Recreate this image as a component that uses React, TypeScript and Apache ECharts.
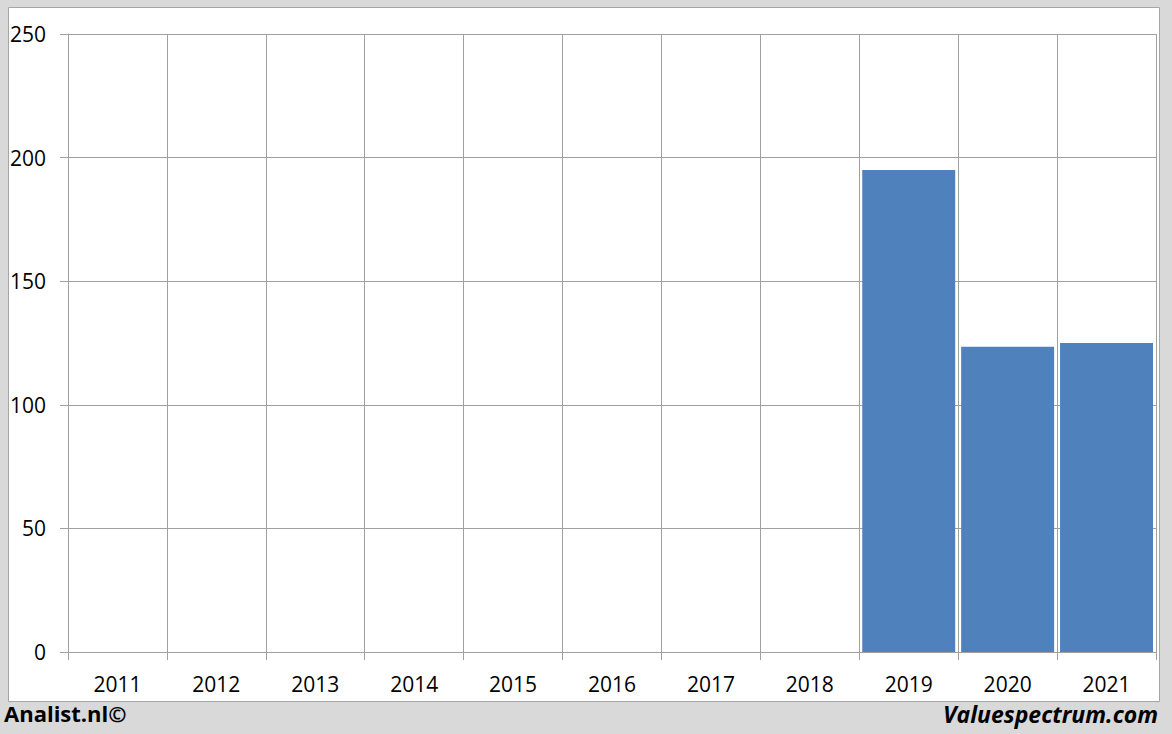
import React, { useEffect, useRef } from "react";
import * as echarts from "echarts";

const categories = ["2011", "2012", "2013", "2014", "2015", "2016", "2017", "2018", "2019", "2020", "2021"];
const values: (number | null)[] = [null, null, null, null, null, null, null, null, 195, 123.5, 125];
const yTicks = { min: 0, max: 250, interval: 50 };
const leftFooter = "Analist.nl©";
const rightFooter = "Valuespectrum.com";

export default function App() {
  const ref = useRef<HTMLDivElement>(null);
  useEffect(() => {
    if (!ref.current) return;
    const chart = echarts.init(ref.current, null, { renderer: "svg" });
    const gridColor = "#a0a0a0";
    const font = "'Open Sans', 'Liberation Sans', sans-serif";
    chart.setOption({
      animation: false,
      backgroundColor: "#d9d9d9",
      textStyle: { fontFamily: font },
      graphic: [
        {
          type: "rect",
          z: -10,
          shape: { x: 8.5, y: 7.5, width: 1151, height: 694 },
          style: { fill: "#ffffff", stroke: "#a6a6a6", lineWidth: 1 },
        },
        {
          type: "text",
          left: 4,
          top: 702,
          style: { text: leftFooter, font: `bold 22px ${font}`, fill: "#000" },
        },
        {
          type: "text",
          right: 14,
          top: 702,
          style: { text: rightFooter, font: `italic bold 23px ${font}`, fill: "#000" },
        },
      ],
      grid: { left: 68, right: 16, top: 34, bottom: 82, containLabel: false },
      xAxis: {
        type: "category",
        data: categories,
        boundaryGap: true,
        axisLine: { show: true, lineStyle: { color: gridColor, width: 1 } },
        axisTick: { show: true, length: 8, interval: 0, lineStyle: { color: gridColor } },
        splitLine: { show: true, interval: 0, lineStyle: { color: gridColor, width: 1 } },
        axisLabel: { color: "#000", fontSize: 21, margin: 21, interval: 0, fontFamily: font },
      },
      yAxis: {
        type: "value",
        min: yTicks.min,
        max: yTicks.max,
        interval: yTicks.interval,
        axisLine: { show: true, lineStyle: { color: gridColor, width: 1 } },
        axisTick: { show: true, length: 8, lineStyle: { color: gridColor } },
        splitLine: { show: true, lineStyle: { color: gridColor, width: 1 } },
        axisLabel: { color: "#000", fontSize: 21, margin: 22, fontFamily: font },
      },
      series: [
        {
          type: "bar",
          data: values,
          barCategoryGap: "6%",
          itemStyle: { color: "#4f81bd" },
        },
      ],
    });
    return () => chart.dispose();
  }, []);
  return (
    <div
      ref={ref}
      style={{ position: "absolute", left: 0, top: 0, width: 1172, height: 734 }}
    />
  );
}
